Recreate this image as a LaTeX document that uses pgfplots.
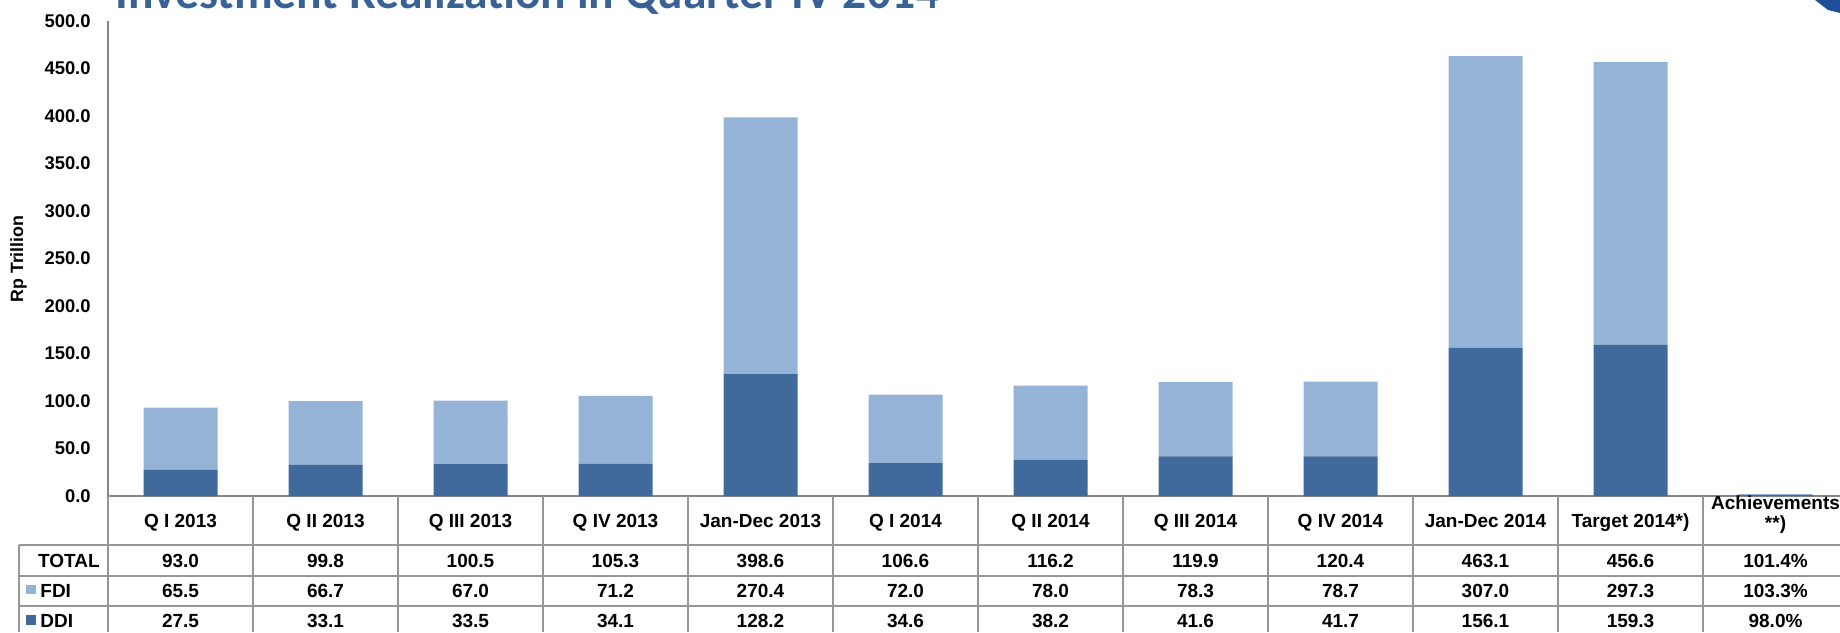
\documentclass[border=0pt]{standalone}
\usepackage{pgfplots}
\pgfplotsset{compat=1.18}
\usepackage{fontspec}
\setmainfont{Liberation Sans}
\newfontfamily\titlefont{Carlito}
\definecolor{ddi}{RGB}{65,106,156}
\definecolor{fdi}{RGB}{149,179,215}
\definecolor{titleblue}{RGB}{56,98,150}
\definecolor{gridgray}{RGB}{150,150,150}
\definecolor{axisgray}{RGB}{134,134,134}
\definecolor{logoblue}{RGB}{30,78,154}
\begin{document}
\begin{tikzpicture}
\path[use as bounding box, clip] (0pt,0pt) rectangle (920pt,316pt);
\node[anchor=base west, inner sep=0pt, text=titleblue, font=\titlefont\bfseries\fontsize{23.8}{28}\selectfont] at (57.5pt,311.5pt) {Investment Realization in Quarter IV 2014};
\fill[logoblue] (907.5pt,316pt) -- (920pt,316pt) -- (920pt,309.5pt) -- (914pt,311pt) -- cycle;
\begin{axis}[
  at={(54pt,68pt)}, anchor=south west, scale only axis,
  width=866pt, height=237.5pt,
  ybar stacked, bar width=37pt,
  xmin=-0.5, xmax=11.445, ymin=0, ymax=500,
  ytick={0,50,...,500}, xtick=\empty,
  axis lines*=left,
  axis line style={axisgray, line width=0.75pt},
  major tick length=0pt,
  clip=false,
  yticklabel style={font=\bfseries\fontsize{9.2}{10}\selectfont, anchor=east, inner sep=0pt, xshift=-8.5pt,
    /pgf/number format/.cd, fixed, fixed zerofill, precision=1, assume math mode=true},
]
\addplot[fill=ddi, draw=none] coordinates {(0,27.5) (1,33.1) (2,33.5) (3,34.1) (4,128.2) (5,34.6) (6,38.2) (7,41.6) (8,41.7) (9,156.1) (10,159.3) (11,0.98)};
\addplot[fill=fdi, draw=none] coordinates {(0,65.5) (1,66.7) (2,67.0) (3,71.2) (4,270.4) (5,72.0) (6,78.0) (7,78.3) (8,78.7) (9,307.0) (10,297.3) (11,1.033)};
\end{axis}
\begin{scope}[x=1pt,y=1pt]
\node[rotate=90, inner sep=0pt, font=\bfseries\fontsize{8.9}{10}\selectfont] at (9.25,186.5) {Rp Trillion};
% table grid
\begin{scope}[gridgray, line width=0.75pt]
\foreach \k in {1,...,12} \draw ({54+\k*72.5},68) -- ({54+\k*72.5},0);
\draw (54,68) -- (54,0);
\draw (9.5,43.5) -- (920,43.5);
\draw (9.5,28) -- (920,28);
\draw (9.5,13) -- (920,13);
\draw (9.5,43.5) -- (9.5,0);
\end{scope}
\begin{scope}[font=\bfseries\fontsize{9.5}{10.5}\selectfont, every node/.style={text height=6.8pt, text depth=0pt}]
\foreach \t [count=\i from 0] in {Q I 2013,Q II 2013,Q III 2013,Q IV 2013,Jan-Dec 2013,Q I 2014,Q II 2014,Q III 2014,Q IV 2014,Jan-Dec 2014,Target 2014*)}
  \node at ({54+(\i+0.5)*72.5},55.75) {\t};
\node[anchor=base, inner sep=0pt] at ({54+11.5*72.5},61.2) {Achievements};
\node[anchor=base, inner sep=0pt] at ({54+11.5*72.5},51.2) {**)};
\foreach \t [count=\i from 0] in {93.0,99.8,100.5,105.3,398.6,106.6,116.2,119.9,120.4,463.1,456.6,101.4\%}
  \node at ({54+(\i+0.5)*72.5},35.75) {\t};
\foreach \t [count=\i from 0] in {65.5,66.7,67.0,71.2,270.4,72.0,78.0,78.3,78.7,307.0,297.3,103.3\%}
  \node at ({54+(\i+0.5)*72.5},20.5) {\t};
\foreach \t [count=\i from 0] in {27.5,33.1,33.5,34.1,128.2,34.6,38.2,41.6,41.7,156.1,159.3,98.0\%}
  \node at ({54+(\i+0.5)*72.5},5.5) {\t};
\node[anchor=east, inner sep=0pt] at (50,35.75) {TOTAL};
\fill[fdi] (13.2,19.1) rectangle (17.8,23.7);
\node[anchor=west, inner sep=0pt] at (20,20.5) {FDI};
\fill[ddi] (13.2,3.7) rectangle (17.8,8.3);
\node[anchor=west, inner sep=0pt] at (20,5.5) {DDI};
\end{scope}
\end{scope}
\end{tikzpicture}
\end{document}
